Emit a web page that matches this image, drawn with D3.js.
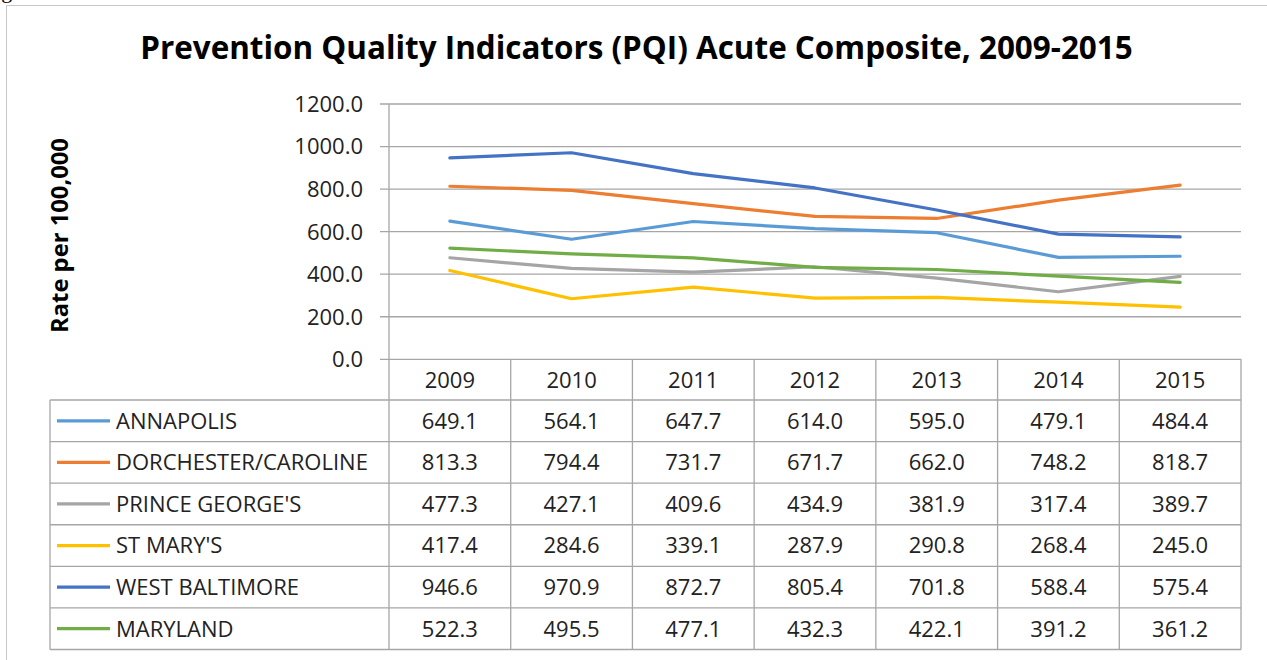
<!DOCTYPE html>
<html>
<head>
<meta charset="utf-8">
<script src="https://cdn.jsdelivr.net/npm/d3@7/dist/d3.min.js"></script>
<style>
  body { margin: 0; background: #ffffff; }
  svg { display: block; font-family: "Open Sans", Arial, sans-serif; }
</style>
</head>
<body>
<svg id="chart"></svg>
<script>
// chart data
const years = ["2009", "2010", "2011", "2012", "2013", "2014", "2015"];
const seriesNames = ["ANNAPOLIS", "DORCHESTER/CAROLINE", "PRINCE GEORGE'S", "ST MARY'S", "WEST BALTIMORE", "MARYLAND"];
const seriesColors = ["#5b9bd5", "#ed7d31", "#a5a5a5", "#ffc000", "#4472c4", "#70ad47"];
const annapolis = [649.1, 564.1, 647.7, 614.0, 595.0, 479.1, 484.4];
const dorchester = [813.3, 794.4, 731.7, 671.7, 662.0, 748.2, 818.7];
const princeGeorges = [477.3, 427.1, 409.6, 434.9, 381.9, 317.4, 389.7];
const stMarys = [417.4, 284.6, 339.1, 287.9, 290.8, 268.4, 245.0];
const westBaltimore = [946.6, 970.9, 872.7, 805.4, 701.8, 588.4, 575.4];
const maryland = [522.3, 495.5, 477.1, 432.3, 422.1, 391.2, 361.2];
const yTicks = [0, 200, 400, 600, 800, 1000, 1200];

const titleText = "Prevention Quality Indicators (PQI) Acute Composite, 2009-2015";
const yLabel = "Rate per 100,000";

const seriesValues = [annapolis, dorchester, princeGeorges, stMarys, westBaltimore, maryland];
const series = seriesNames.map(function(name, i) {
  return { name: name, color: seriesColors[i], values: seriesValues[i] };
});

/********** LAYOUT **********/
var width = 1267, height = 660;
var plotLeft = 389, plotRight = 1241, plotTop = 104, plotBottom = 359.3;
var tableLeft = 50, tableBottom = 649.5;
var gridColor = "#a6a6a6";
var fmt = d3.format(".1f");

var svg = d3.select("#chart").attr("width", width).attr("height", height);

// clipped caption from the page above the chart
svg.append("text")
  .attr("x", -17).attr("y", -2)
  .style("font-family", "'Liberation Serif', serif")
  .style("font-size", "22px")
  .attr("fill", "#000")
  .text("Figure");

// chart frame
svg.append("path")
  .attr("d", "M6.5," + height + "V5.5H" + width)
  .attr("fill", "none")
  .attr("stroke", "#c8c8c8")
  .attr("stroke-width", 1);

var x = d3.scaleBand().domain(years).range([plotLeft, plotRight]).padding(0);
var y = d3.scaleLinear().domain([0, 1200]).range([plotBottom, plotTop]);

// title, fitted to the width it takes in the reference
var title = svg.append("text")
  .attr("x", 636.5).attr("y", 59)
  .attr("text-anchor", "middle")
  .style("font-weight", "bold")
  .style("font-size", "30px")
  .attr("fill", "#000")
  .text(titleText);
var tw = title.node().getComputedTextLength();
title.style("font-size", (30 * 993 / tw) + "px");

// y axis label
var yl = svg.append("text")
  .attr("transform", "translate(68,235.5) rotate(-90)")
  .attr("text-anchor", "middle")
  .style("font-weight", "bold")
  .style("font-size", "20px")
  .attr("fill", "#000")
  .text(yLabel);
var yw = yl.node().getComputedTextLength();
yl.style("font-size", (20 * 195 / yw) + "px");

// gridlines
svg.append("g")
  .selectAll("line")
  .data(yTicks)
  .enter().append("line")
    .attr("x1", plotLeft - 9).attr("x2", plotRight)
    .attr("y1", function(d) { return y(d); })
    .attr("y2", function(d) { return y(d); })
    .attr("stroke", gridColor)
    .attr("stroke-width", 1.3);

// y tick labels
svg.append("g")
  .selectAll("text")
  .data(yTicks)
  .enter().append("text")
    .attr("x", 363)
    .attr("y", function(d) { return y(d); })
    .attr("dy", "0.36em")
    .attr("text-anchor", "end")
    .style("font-size", "22px")
    .attr("fill", "#222")
    .text(function(d) { return fmt(d); });

// data table
var rowH = (tableBottom - 400) / series.length;
var table = svg.append("g").attr("class", "table");

// header row: years
table.selectAll(".yr")
  .data(years)
  .enter().append("text")
    .attr("class", "yr")
    .attr("x", function(d) { return x(d) + x.bandwidth() / 2; })
    .attr("y", (plotBottom + 400) / 2)
    .attr("dy", "0.36em")
    .attr("text-anchor", "middle")
    .style("font-size", "22px")
    .attr("fill", "#222")
    .text(function(d) { return d; });

// horizontal rules
var ruleYs = d3.range(series.length + 1).map(function(i) { return 400 + i * rowH; });
table.selectAll(".hr")
  .data(ruleYs)
  .enter().append("line")
    .attr("x1", tableLeft).attr("x2", plotRight)
    .attr("y1", function(d) { return d; })
    .attr("y2", function(d) { return d; })
    .attr("stroke", gridColor)
    .attr("stroke-width", 1.3);

// vertical rules
table.append("line")
  .attr("x1", tableLeft).attr("x2", tableLeft)
  .attr("y1", 400).attr("y2", tableBottom)
  .attr("stroke", gridColor).attr("stroke-width", 1.3);
table.append("line")
  .attr("x1", plotLeft).attr("x2", plotLeft)
  .attr("y1", plotTop).attr("y2", tableBottom)
  .attr("stroke", gridColor).attr("stroke-width", 1.3);
table.selectAll(".vr")
  .data(years)
  .enter().append("line")
    .attr("x1", function(d) { return x(d) + x.bandwidth(); })
    .attr("x2", function(d) { return x(d) + x.bandwidth(); })
    .attr("y1", plotBottom).attr("y2", tableBottom)
    .attr("stroke", gridColor)
    .attr("stroke-width", 1.3);

// one row per series
var rows = table.selectAll(".row")
  .data(series)
  .enter().append("g")
    .attr("class", "row")
    .attr("transform", function(d, i) { return "translate(0," + (400 + i * rowH + rowH / 2) + ")"; });

rows.append("line")
  .attr("x1", 57).attr("x2", 110)
  .attr("y1", 0).attr("y2", 0)
  .attr("stroke", function(d) { return d.color; })
  .attr("stroke-width", 3.2);

rows.append("text")
  .attr("x", 116)
  .attr("dy", "0.36em")
  .style("font-size", "22px")
  .attr("fill", "#222")
  .text(function(d) { return d.name; });

rows.selectAll(".val")
  .data(function(d) { return d.values; })
  .enter().append("text")
    .attr("class", "val")
    .attr("x", function(d, i) { return x(years[i]) + x.bandwidth() / 2; })
    .attr("dy", "0.36em")
    .attr("text-anchor", "middle")
    .style("font-size", "22px")
    .attr("fill", "#222")
    .text(function(d) { return fmt(d); });

// lines
var line = d3.line()
  .x(function(d, i) { return x(years[i]) + x.bandwidth() / 2; })
  .y(function(d) { return y(d); });

svg.append("g")
  .selectAll("path")
  .data(series)
  .enter().append("path")
    .attr("d", function(d) { return line(d.values); })
    .attr("fill", "none")
    .attr("stroke", function(d) { return d.color; })
    .attr("stroke-width", 3.2)
    .attr("stroke-linejoin", "round")
    .attr("stroke-linecap", "round");
</script>
</body>
</html>
